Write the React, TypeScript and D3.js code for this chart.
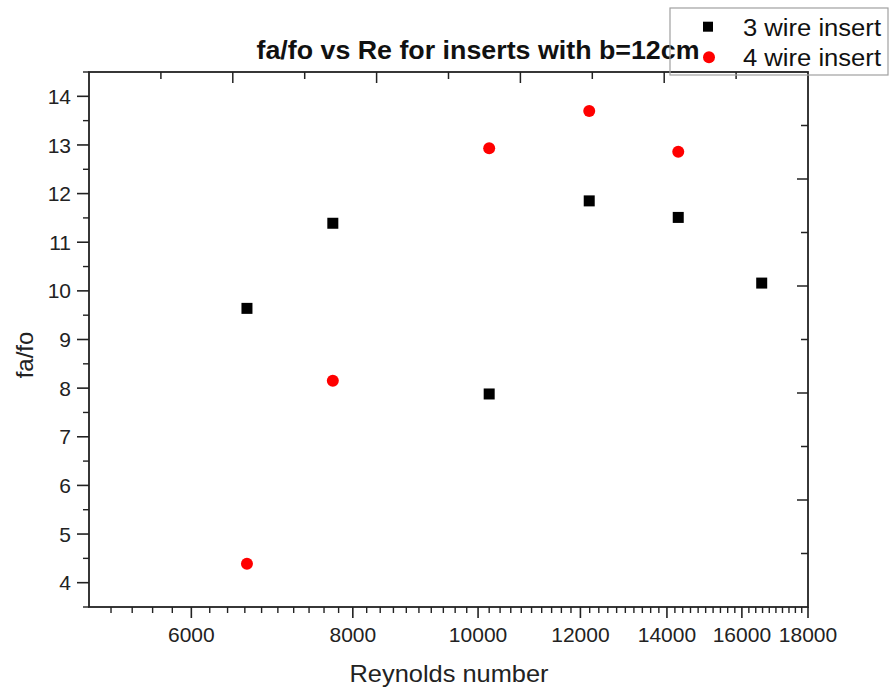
import React from "react";
import * as d3 from "d3";

const reynolds3 = [6625, 7720, 10200, 12190, 14285, 16575];
const ratio3 = [9.64, 11.39, 7.88, 11.85, 11.51, 10.16];
const reynolds4 = [6625, 7720, 10200, 12190, 14285];
const ratio4 = [4.39, 8.15, 12.93, 13.7, 12.86];
const xMajorTicks = [6000, 8000, 10000, 12000, 14000, 16000, 18000];
const yMajorTicks = [4, 5, 6, 7, 8, 9, 10, 11, 12, 13, 14];
const seriesNames = ["3 wire insert", "4 wire insert"];

const W = 890;
const H = 693;
const L = 89, R = 808, T = 72, B = 607;
const FONT = "'Liberation Sans', Arial, sans-serif";

export default function App() {
  const x = d3.scaleLog().domain([5000, 18000]).range([L, R]);
  const y = d3.scaleLinear().domain([3.5, 14.5]).range([B, T]);
  const xMinor = d3.range(5200, 18000, 200).filter((v) => v % 2000 !== 0);
  const yMinor = d3.range(3.5, 14.6, 1);
  const top = d3.scaleLinear().domain([0, 10]).range([L, R]);
  const right = d3.scaleLinear().domain([0, 10]).range([T, B]);
  const inner = d3.range(1, 10);

  return (
    <svg width={W} height={H} style={{ position: "absolute", left: 0, top: 0, background: "#fff" }} fontFamily={FONT}>
      <rect x={0} y={0} width={W} height={H} fill="#fff" />
      {/* title */}
      <text x={478} y={59} textAnchor="middle" fontWeight="bold" fontSize={26} textLength={443} lengthAdjust="spacingAndGlyphs" fill="#111">
        fa/fo vs Re for inserts with b=12cm
      </text>
      {/* frame */}
      <rect x={L} y={T} width={R - L} height={B - T} fill="none" stroke="#222" strokeWidth={1.8} />
      {/* bottom ticks */}
      {xMajorTicks.map((v) => (
        <g key={"xm" + v}>
          <line x1={x(v)} x2={x(v)} y1={B} y2={B + 11} stroke="#222" strokeWidth={1.6} />
          <text x={x(v)} y={642} textAnchor="middle" fontSize={21} fill="#222">{v}</text>
        </g>
      ))}
      {xMinor.map((v) => (
        <line key={"xn" + v} x1={x(v)} x2={x(v)} y1={B} y2={B + 6} stroke="#222" strokeWidth={1.4} />
      ))}
      {/* left ticks */}
      {yMajorTicks.map((v) => (
        <g key={"ym" + v}>
          <line x1={L - 12} x2={L} y1={y(v)} y2={y(v)} stroke="#222" strokeWidth={1.6} />
          <text x={71} y={y(v)} dy="0.36em" textAnchor="end" fontSize={21} fill="#222">{v}</text>
        </g>
      ))}
      {yMinor.map((v) => (
        <line key={"yn" + v} x1={L - 6} x2={L} y1={y(v)} y2={y(v)} stroke="#222" strokeWidth={1.4} />
      ))}
      {/* top ticks (inward) */}
      {inner.map((k) => (
        <line key={"t" + k} x1={top(k)} x2={top(k)} y1={T} y2={T + (k % 2 === 0 ? 11 : 7)} stroke="#222" strokeWidth={1.5} />
      ))}
      {/* right ticks (inward) */}
      {inner.map((k) => (
        <line key={"r" + k} x1={R - (k % 2 === 0 ? 11 : 7)} x2={R} y1={right(k)} y2={right(k)} stroke="#222" strokeWidth={1.5} />
      ))}
      {/* axis titles */}
      <text x={449} y={682} textAnchor="middle" fontSize={24} textLength={199} lengthAdjust="spacingAndGlyphs" fill="#222">
        Reynolds number
      </text>
      <text transform={`translate(33,355) rotate(-90)`} textAnchor="middle" fontSize={24} fill="#222">
        fa/fo
      </text>
      {/* data */}
      {reynolds3.map((v, i) => (
        <rect key={"s" + i} x={x(v) - 5.5} y={y(ratio3[i]) - 5.5} width={11} height={11} fill="#000" />
      ))}
      {reynolds4.map((v, i) => (
        <circle key={"c" + i} cx={x(v)} cy={y(ratio4[i])} r={6} fill="#ff0000" />
      ))}
      {/* legend */}
      <rect x={670} y={8} width={218} height={67} fill="none" stroke="#a0a0a0" strokeWidth={1.2} />
      <rect x={703} y={21.7} width={10} height={10} fill="#000" />
      <circle cx={709} cy={57.3} r={6} fill="#ff0000" />
      <text x={743} y={36} fontSize={23} textLength={138} lengthAdjust="spacingAndGlyphs" fill="#111">{seriesNames[0]}</text>
      <text x={743} y={66} fontSize={23} textLength={138} lengthAdjust="spacingAndGlyphs" fill="#111">{seriesNames[1]}</text>
    </svg>
  );
}
